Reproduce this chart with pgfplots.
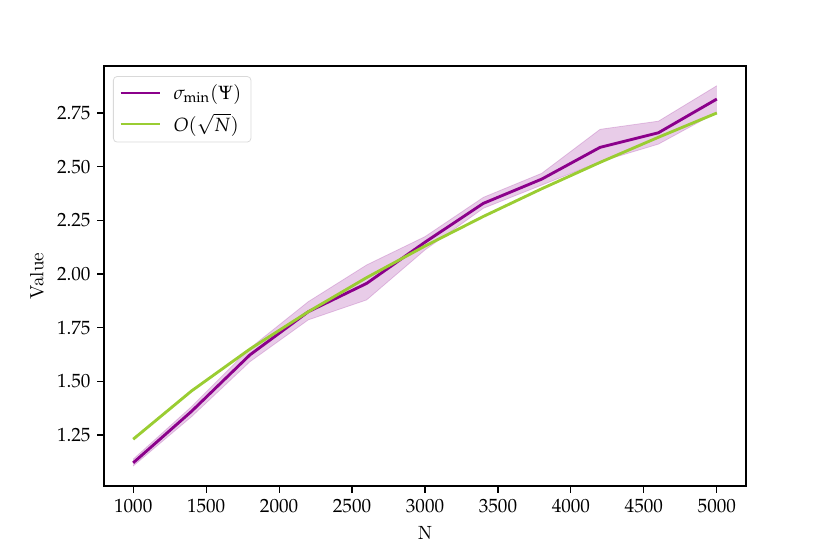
\documentclass[border=0pt]{standalone}
\usepackage{mathpazo}
\usepackage{pgfplots}
\pgfplotsset{compat=1.18}
\usepgfplotslibrary{fillbetween}
\definecolor{pur}{HTML}{8B008B}
\definecolor{ygr}{HTML}{9ACD32}
\begin{document}
\begin{tikzpicture}
\begin{axis}[
  scale only axis, width=11.788cm, height=7.712cm,
  xmin=800, xmax=5200, ymin=1.012, ymax=2.969,
  xtick={1000,1500,...,5000},
  ytick={1.25,1.5,1.75,2.0,2.25,2.5,2.75},
  scaled x ticks=false,
  xticklabel style={/pgf/number format/set thousands separator={}},
  yticklabel style={/pgf/number format/fixed, /pgf/number format/fixed zerofill, /pgf/number format/precision=2},
  tick align=outside, tick pos=left,
  major tick length=3.5pt,
  every tick/.style={black, line width=0.6pt},
  axis line style={line width=0.6pt},
  xlabel={N}, ylabel={Value},
  legend cell align=left,
  legend style={draw=black!15, rounded corners=2pt, font=\normalsize, row sep=2pt,
    at={(0.014,0.976)}, anchor=north west},
  legend image code/.code={\draw[#1, line width=1.5pt] (0cm,0cm) -- (0.73cm,0cm); \path (0.88cm,0cm);},
]
\addplot[name path=up, draw=pur, draw opacity=0.2, forget plot] coordinates {
(1000,1.137) (1400,1.382) (1800,1.654) (2200,1.871) (2600,2.042) (3000,2.174)
(3400,2.357) (3800,2.469) (4200,2.674) (4600,2.712) (5000,2.877)};
\addplot[name path=lo, draw=pur, draw opacity=0.2, forget plot] coordinates {
(1000,1.105) (1400,1.335) (1800,1.591) (2200,1.786) (2600,1.879) (3000,2.112)
(3400,2.306) (3800,2.414) (4200,2.523) (4600,2.605) (5000,2.753)};
\addplot[pur, fill opacity=0.2, draw=none, forget plot] fill between[of=up and lo];
\addplot[pur, line width=1.5pt] coordinates {
(1000,1.120) (1400,1.360) (1800,1.623) (2200,1.824) (2600,1.956) (3000,2.148)
(3400,2.329) (3800,2.442) (4200,2.590) (4600,2.658) (5000,2.815)};
\addlegendentry{$\sigma_{\min}(\Psi)$}
\addplot[ygr, line width=1.5pt] coordinates {
(1000,1.230) (1400,1.455) (1800,1.650) (2200,1.824) (2600,1.983) (3000,2.130)
(3400,2.268) (3800,2.397) (4200,2.520) (4600,2.637) (5000,2.750)};
\addlegendentry{$O(\sqrt{N})$}
\end{axis}
\pgfresetboundingbox
\path[use as bounding box] (-1.9096,-1.2486) rectangle (13.330,8.9236);
\end{tikzpicture}
\end{document}
